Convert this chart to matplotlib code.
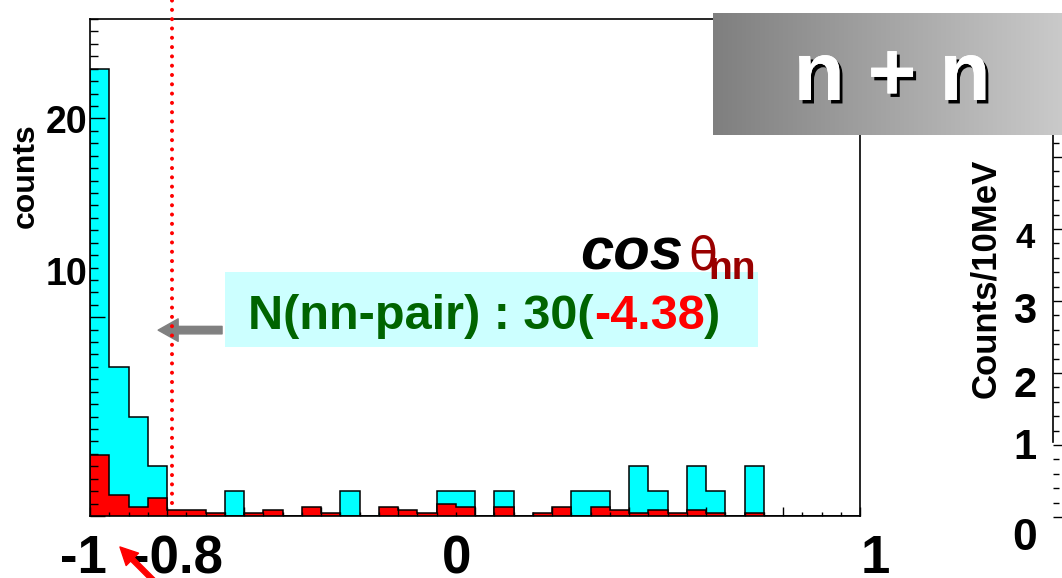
import numpy as np
import matplotlib
matplotlib.use('Agg')
import matplotlib.pyplot as plt
from matplotlib import patheffects
from matplotlib.patches import Rectangle, FancyArrowPatch
from matplotlib.ticker import MultipleLocator
from matplotlib.colors import LinearSegmentedColormap

plt.rcParams['font.family'] = ['Liberation Sans', 'DejaVu Sans']

# cos(theta_nn): 40 bins of 0.05 from -1 to 1
bin_edges = np.linspace(-1.0, 1.0, 41)
nn_pairs = [18, 6, 4, 2, 0, 0, 0, 1, 0, 0,
            0, 0, 0, 1, 0, 0, 0, 0, 1, 1,
            0, 1, 0, 0, 0, 1, 1, 0, 2, 1,
            0, 2, 1, 0, 2, 0, 0, 0, 0, 0]
background = [2.45, 0.84, 0.35, 0.71, 0.24, 0.24, 0.11, 0, 0.11, 0.24,
              0, 0.35, 0.11, 0, 0, 0.35, 0.24, 0.11, 0.47, 0.35,
              0, 0.35, 0, 0.11, 0.35, 0, 0.35, 0.24, 0.11, 0.24,
              0.11, 0.24, 0.11, 0, 0.11, 0, 0, 0, 0, 0]
cut_value = -0.788
x_labels = ['-1', '-0.8', '0', '1']
y_labels = ['10', '20']
right_labels = ['0', '1', '2', '3', '4']

W, H = 1062, 578


def fx(px):
    return px / W


def fy(py):
    return 1 - py / H


fig = plt.figure(figsize=(W / 100, H / 100), dpi=100)

# main histogram panel
ax = fig.add_axes([fx(90), fy(516), fx(860) - fx(90), fy(19) - fy(516)])
ax.stairs(nn_pairs, bin_edges, fill=True, facecolor='#00ffff',
          edgecolor='black', lw=1.1)
ax.stairs(background, bin_edges, fill=True, facecolor='#ff0000',
          edgecolor='black', lw=1.1)
ax.set_xlim(-1, 1)
ax.set_ylim(0, 20)
ax.xaxis.set_major_locator(MultipleLocator(0.2))
ax.xaxis.set_minor_locator(MultipleLocator(0.05))
ax.yaxis.set_major_locator(MultipleLocator(8))
ax.yaxis.set_minor_locator(MultipleLocator(0.5))
ax.tick_params(which='both', direction='in', top=False, right=False,
               labelbottom=False, labelleft=False, width=1)
ax.tick_params(axis='x', which='major', length=6.5)
ax.tick_params(axis='x', which='minor', length=3)
ax.tick_params(axis='y', which='major', length=11)
ax.tick_params(axis='y', which='minor', length=5.5)
for s in ax.spines.values():
    s.set_linewidth(1.2)

# cut line (round dots)
ax.plot([cut_value, cut_value], [0.52, 20.8], color='#ff0000', lw=2.9,
        dashes=(0.01, 2.3), dash_capstyle='round', clip_on=False, zorder=5)

# tick labels (hand placed as on the slide)
x_label_pos = [-1.017, -0.774, -0.049, 1.040]
for lab, xp in zip(x_labels, x_label_pos):
    ax.text(xp, -2.3, lab, ha='center', va='baseline', fontsize=38,
            fontweight='bold', clip_on=False)
y_label_pos = [9.7, 15.8]
for lab, yp in zip(y_labels, y_label_pos):
    ax.text(-0.004, yp, lab, transform=ax.get_yaxis_transform(),
            ha='right', va='center', fontsize=27, fontweight='bold')
fig.text(fx(26), fy(176), 'counts', rotation=90, ha='center', va='center',
         fontsize=23, fontweight='bold')

# grey arrow toward the peak
ax.annotate('', xy=(-0.823, 7.48), xytext=(-0.657, 7.48),
            arrowprops=dict(arrowstyle='simple,head_length=0.8,head_width=0.9,tail_width=0.3',
                            color='#808080', mutation_scale=18,
                            shrinkA=0, shrinkB=0))

# N(nn-pair) box
fig.add_artist(Rectangle((fx(225), fy(347)), fx(758) - fx(225),
                         fy(272) - fy(347), transform=fig.transFigure,
                         facecolor='#ccffff', edgecolor='none', zorder=2))
renderer = fig.canvas.get_renderer()
ty = fy(329)
t1 = fig.text(fx(248), ty, 'N(nn-pair) : 30(', color='#006400',
              fontsize=35, fontweight='bold', va='baseline', zorder=3)
bb = t1.get_window_extent(renderer)
t2 = fig.text(bb.x1 / W, ty, '-4.38', color='#ff0000', fontsize=35,
              fontweight='bold', va='baseline', zorder=3)
bb = t2.get_window_extent(renderer)
fig.text(bb.x1 / W, ty, ')', color='#006400', fontsize=35,
         fontweight='bold', va='baseline', zorder=3)

# cos theta_nn label
fig.text(fx(580), fy(269), 'cos', fontsize=43, fontweight='bold',
         fontstyle='italic', va='baseline', zorder=3)
fig.text(fx(688), fy(269), '\u03b8', fontsize=34, color='#990000',
         family='DejaVu Sans', va='baseline', zorder=3)
fig.text(fx(708), fy(279), 'nn', fontsize=28, fontweight='bold',
         color='#990000', va='baseline', zorder=3)

# partial right-hand panel
rax = fig.add_axes([fx(1052.7), fy(517), 0.05, fy(135) - fy(517)],
                   facecolor='none')
rax.set_ylim(0, 5.305)
rax.yaxis.set_major_locator(MultipleLocator(1))
rax.yaxis.set_minor_locator(MultipleLocator(0.2))
rax.tick_params(axis='y', which='both', direction='in', labelleft=False,
                width=1)
rax.tick_params(axis='y', which='major', length=7.5)
rax.tick_params(axis='y', which='minor', length=4.5)
rax.set_xticks([])
for side in ['top', 'right', 'bottom']:
    rax.spines[side].set_visible(False)
rax.spines['left'].set_bounds(1.04, 5.305)
rax.spines['left'].set_linewidth(1.2)

right_label_y = [539, 448, 386, 312, 239]
right_label_size = [32, 30, 30, 30, 25]
for lab, py, sz in zip(right_labels, right_label_y, right_label_size):
    fig.text(fx(1025), fy(py), lab, ha='center', va='center', fontsize=sz,
             fontweight='bold')
fig.text(fx(986), fy(278), 'Counts/10MeV', rotation=90, ha='center',
         va='center', fontsize=25, fontweight='bold')

# grey gradient title box
gax = fig.add_axes([fx(712.7), fy(135), fx(1062) - fx(712.7),
                    fy(12.7) - fy(135)], zorder=10)
grey = LinearSegmentedColormap.from_list('grey', ['#7f7f7f', '#cacaca'])
gax.imshow(np.linspace(0, 1, 256)[None, :], aspect='auto', cmap=grey)
gax.set_axis_off()
fig.text(fx(892), fy(100), 'n + n', ha='center', va='baseline', fontsize=60,
         fontweight='bold', color='white', zorder=11,
         path_effects=[patheffects.withSimplePatchShadow(
             offset=(2.2, -2.5), shadow_rgbFace='black', alpha=1.0),
             patheffects.Normal()])

# red arrow at the bottom
fig.add_artist(FancyArrowPatch(
    (156, H - 583), (118, H - 545), transform=None,
    arrowstyle='simple,head_length=0.9,head_width=0.9,tail_width=0.25',
    color='#ff0000', mutation_scale=14, zorder=4))

fig.savefig('out.png', dpi=100)
